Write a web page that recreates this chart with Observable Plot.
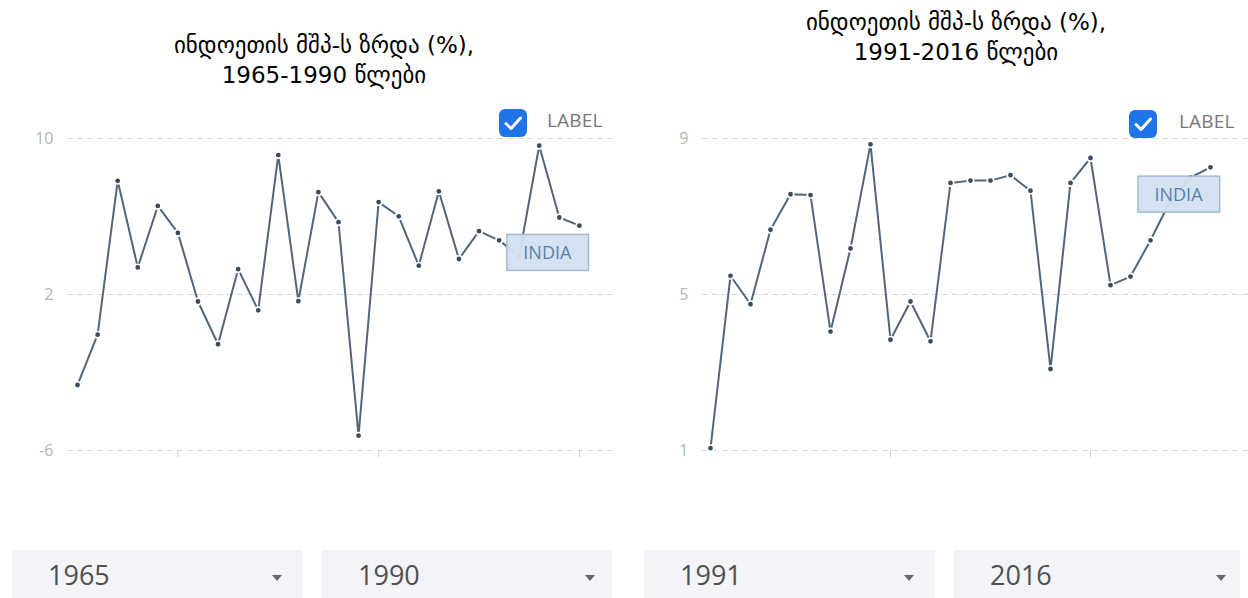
<!DOCTYPE html>
<html>
<head>
<meta charset="utf-8">
<script src="https://cdn.jsdelivr.net/npm/d3@7"></script>
<script src="https://cdn.jsdelivr.net/npm/@observablehq/plot@0.6"></script>
<style>
  html, body { margin: 0; padding: 0; background: #fff; }
  #page { position: relative; width: 1248px; height: 598px; overflow: hidden; background: #fff; font-family: "Open Sans", "Noto Sans", sans-serif; }
  .title { position: absolute; width: 624px; text-align: center; font-family: "Liberation Sans Narrow", "DejaVu Sans", sans-serif; font-size: 23px; line-height: 30px; color: #000; }
  .panel { position: absolute; top: 100px; }
  .chk { position: absolute; width: 28px; height: 28px; border-radius: 6px; background: #1f74e8; }
  .chk svg { position: absolute; left: 0; top: 0; }
  .lbl { position: absolute; font-size: 19px; color: #777; font-weight: 400; letter-spacing: 0.2px; }
  .dd { position: absolute; top: 550px; height: 60px; background: #f3f3f8; }
  .dd span { position: absolute; left: 36px; top: 6px; font-size: 27px; color: #505050; }
  .dd i { position: absolute; top: 25px; width: 0; height: 0; border-left: 5px solid transparent; border-right: 5px solid transparent; border-top: 6px solid #666; }
</style>
</head>
<body>
<div id="page"></div>
<script>
// ---- data ----
const titles1 = ["ინდოეთის მშპ-ს ზრდა (%),", "1965-1990 წლები"];
const titles2 = ["ინდოეთის მშპ-ს ზრდა (%),", "1991-2016 წლები"];
const years1 = [1965,1966,1967,1968,1969,1970,1971,1972,1973,1974,1975,1976,1977,1978,1979,1980,1981,1982,1983,1984,1985,1986,1987,1988,1989,1990];
const gdp1 = [-2.64,-0.06,7.83,3.39,6.54,5.16,1.64,-0.55,3.30,1.19,9.15,1.66,7.25,5.71,-5.24,6.74,6.01,3.48,7.29,3.82,5.25,4.78,3.97,9.63,5.95,5.53];
const years2 = [1991,1992,1993,1994,1995,1996,1997,1998,1999,2000,2001,2002,2003,2004,2005,2006,2007,2008,2009,2010,2011,2012,2013,2014,2015,2016];
const gdp2 = [1.06,5.48,4.75,6.66,7.57,7.55,4.05,6.18,8.85,3.84,4.82,3.80,7.86,7.92,7.92,8.06,7.66,3.09,7.86,8.50,5.24,5.46,6.39,7.41,8.00,8.26];
const yTicks1 = [-6, 2, 10];
const yTicks2 = [1, 5, 9];
const xTicks1 = [1970, 1980, 1990];
const xTicks2 = [2000, 2010];
const seriesName = "INDIA";
const checkboxLabel = "LABEL";
const range1 = ["1965", "1990"];
const range2 = ["1991", "2016"];

const page = document.getElementById("page");

function addTitle(lines, left, top) {
  const d = document.createElement("div");
  d.className = "title";
  d.style.left = left + "px";
  d.style.top = top + "px";
  d.innerHTML = lines.map(l => `<div>${l}</div>`).join("");
  page.appendChild(d);
}

function addCheckbox(left, top, labelLeft) {
  const c = document.createElement("div");
  c.className = "chk";
  c.style.left = left + "px";
  c.style.top = top + "px";
  c.innerHTML = `<svg width="28" height="28" viewBox="0 0 28 28"><path d="M7 14.5 L12 19.5 L21.5 9" fill="none" stroke="#fff" stroke-width="3" stroke-linecap="round" stroke-linejoin="round"/></svg>`;
  page.appendChild(c);
  const l = document.createElement("div");
  l.className = "lbl";
  l.style.left = labelLeft + "px";
  l.style.top = (top - 2) + "px";
  l.textContent = checkboxLabel;
  page.appendChild(l);
}

function addDropdown(left, width, text, arrowLeft) {
  const d = document.createElement("div");
  d.className = "dd";
  d.style.left = left + "px";
  d.style.width = width + "px";
  d.innerHTML = `<span>${text}</span><i style="left:${arrowLeft - left - 5}px"></i>`;
  page.appendChild(d);
}

function makeChart(years, values, yTicks, xTicks, xDomain, marginLeft, marginRight, panelLeft) {
  const data = years.map((y, i) => ({year: y, value: values[i]}));
  const last = data[data.length - 1];
  const plot = Plot.plot({
    width: 624,
    height: 400,
    marginTop: 38,
    marginBottom: 50,
    marginLeft,
    marginRight,
    style: {fontFamily: "'Open Sans', sans-serif", background: "transparent", overflow: "visible"},
    x: {domain: xDomain},
    y: {domain: [yTicks[0], yTicks[yTicks.length - 1]]},
    marks: [
      Plot.ruleY(yTicks, {stroke: "#d9d9d9", strokeWidth: 1, strokeDasharray: "6,4"}),
      Plot.axisY(yTicks, {tickSize: 0, tickPadding: 14, fontSize: 16, fill: "#b3b3b3", tickFormat: d => String(d), label: null}),
      Plot.axisX(xTicks, {tickSize: 7, stroke: "#cfcfcf", tickFormat: () => "", label: null}),
      Plot.line(data, {x: "year", y: "value", stroke: "#52667a", strokeWidth: 2}),
      Plot.dot(data, {x: "year", y: "value", r: 3.2, fill: "#3b4b5c", stroke: "#fff", strokeWidth: 1.6}),
      Plot.text([last], {x: "year", y: "value", text: () => seriesName, dx: -32, dy: 28, fontSize: 18, fill: "#5a7fab", ariaDescription: "india-label"})
    ]
  });
  const holder = document.createElement("div");
  holder.className = "panel";
  holder.style.left = panelLeft + "px";
  holder.appendChild(plot);
  page.appendChild(holder);
  // draw the label box behind the text, sized from the text itself
  plot.querySelectorAll('g[aria-description="india-label"] text').forEach(t => {
    const b = t.getBBox();
    const r = document.createElementNS("http://www.w3.org/2000/svg", "rect");
    r.setAttribute("x", b.x - 16.5);
    r.setAttribute("y", b.y - 6);
    r.setAttribute("width", b.width + 33);
    r.setAttribute("height", b.height + 12);
    r.setAttribute("fill", "#d3e0f0");
    r.setAttribute("fill-opacity", "0.95");
    r.setAttribute("stroke", "#a3b9d5");
    r.setAttribute("stroke-width", "1.5");
    if (t.getAttribute("transform")) r.setAttribute("transform", t.getAttribute("transform"));
    t.parentNode.insertBefore(r, t);
  });
}

addTitle(titles1, 12, 30);
addTitle(titles2, 644, 7);

makeChart(years1, gdp1, yTicks1, xTicks1, [1964.5, 1991.8], 67, 9, 0);
makeChart(years2, gdp2, yTicks2, xTicks2, [1990.6, 2017.9], 78, 0, 624);

addCheckbox(499, 109, 547);
addCheckbox(1129, 110, 1179);

addDropdown(12, 290, range1[0], 277);
addDropdown(322, 290, range1[1], 590);
addDropdown(644, 291, range2[0], 909);
addDropdown(954, 286, range2[1], 1221);
</script>
</body>
</html>
